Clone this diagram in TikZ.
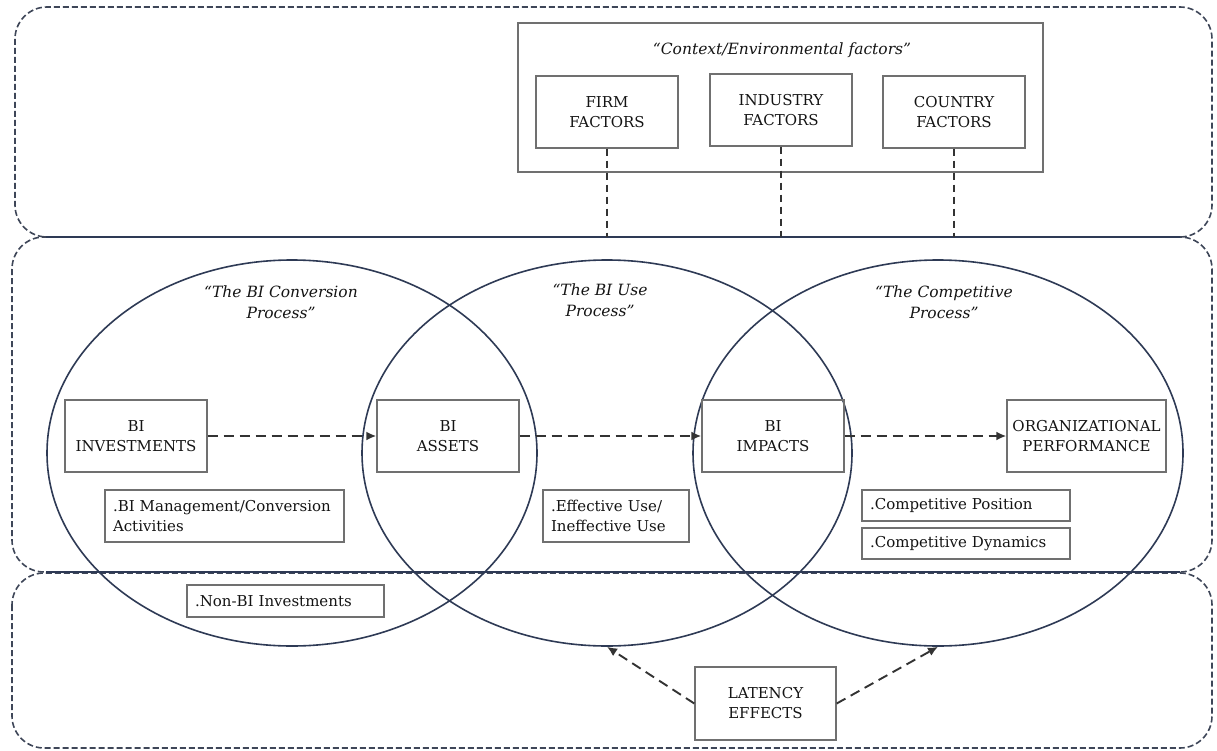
\documentclass[tikz,border=0pt]{standalone}
\usepackage{fontspec}
\setmainfont{DejaVu Serif}
\usetikzlibrary{shapes.geometric,arrows.meta}
\definecolor{panelc}{HTML}{3E4658}
\definecolor{ringc}{HTML}{2E3A55}
\definecolor{boxc}{HTML}{707070}
\definecolor{inkc}{HTML}{141414}
\definecolor{dashc}{HTML}{333333}
\tikzset{
  panel/.style={draw=panelc, line width=1.6pt, dash pattern=on 6pt off 3pt, rounded corners=32pt},
  seam/.style={draw=ringc, line width=1.8pt},
  proc/.style={ellipse, draw=ringc, line width=1.6pt, minimum width=490pt, minimum height=386pt, inner sep=0pt},
  box/.style={draw=boxc, line width=1.4pt, minimum width=142pt, minimum height=72pt, align=center, text=inkc, font=\fontsize{15}{20}\selectfont, inner sep=1pt},
  note/.style={draw=boxc, line width=1.4pt, align=left, text=inkc, font=\fontsize{15}{20}\selectfont, inner xsep=8pt, inner ysep=3pt},
  heading/.style={align=center, text=inkc, font=\fontsize{15.5}{21}\selectfont\itshape},
  flow/.style={->, draw=dashc, line width=1.9pt, dash pattern=on 10pt off 6pt},
  tie/.style={draw=dashc, line width=1.7pt, dash pattern=on 7pt off 5pt},
}
\begin{document}
\begin{tikzpicture}[x=1pt, y=-1pt, >={Latex[length=10pt,width=9pt]}]
        \useasboundingbox (0,0) rectangle (1217,751);
        % Panels
        \draw[panel] (15,7) rectangle (1212,237);
        \draw[panel] (12,237) rectangle (1212,572);
        \draw[panel] (12,573) rectangle (1212,748);
        \draw[seam] (46,237) -- (1180,237);
        \draw[seam] (46,572) -- (1180,572);
        \coordinate (seamtop) at (0,237);

        % Context factors
        \node[draw=boxc, line width=1.4pt, minimum width=525pt, minimum height=149pt] (context) at (780.5,97.5) {};
        \node[heading] (ctxtitle) at (782,50) {“Context/Environmental factors”};
        \node[box] (firm) at (607,112) {FIRM\\FACTORS};
        \node[box] (industry) at (781,110) {INDUSTRY\\FACTORS};
        \node[box] (country) at (954,112) {COUNTRY\\FACTORS};

        % Processes
        \node[proc] (conv) at (292,453) {};
        \node[proc] (use) at (607,453) {};
        \node[proc] (comp) at (938,453) {};
        \node[heading] (convtitle) at (281,302) {“The BI Conversion\\Process”};
        \node[heading] (usetitle) at (600,300) {“The BI Use\\Process”};
        \node[heading] (comptitle) at (944,302) {“The Competitive\\Process”};

        % Nodes
        \node[box] (invest) at (136,436) {BI\\INVESTMENTS};
        \node[box] (assets) at (448,436) {BI\\ASSETS};
        \node[box] (impacts) at (773,436) {BI\\IMPACTS};
        \node[box, minimum width=159pt] (perf) at (1086.5,436) {ORGANIZATIONAL\\PERFORMANCE};
        \node[note, text width=223pt, minimum height=52pt] (mgmt) at (224.5,516) {.BI Management/Conversion\\Activities};
        \node[note, text width=130pt, minimum height=52pt] (usenote) at (616,516) {.Effective Use/\\Ineffective Use};
        \node[note, text width=192pt, minimum height=31pt] (position) at (966,505.5) {.Competitive Position};
        \node[note, text width=192pt, minimum height=31pt] (dynamics) at (966,543.5) {.Competitive Dynamics};
        \node[note, text width=181pt, minimum height=32pt] (nonbi) at (285.5,601) {.Non-BI Investments};
        \node[box, minimum width=141pt, minimum height=73pt] (latency) at (765.5,703.5) {LATENCY\\EFFECTS};

        % Arrows
        \draw[tie] (firm) -- (firm |- seamtop);
        \draw[tie] (industry) -- (industry |- seamtop);
        \draw[tie] (country) -- (country |- seamtop);
        \draw[flow] (invest) -- (assets);
        \draw[flow] (assets) -- (impacts);
        \draw[flow] (impacts) -- (perf);
        \draw[flow] (latency.west) -- (use.south);
        \draw[flow] (latency.east) -- (comp.south);
\end{tikzpicture}
\end{document}
